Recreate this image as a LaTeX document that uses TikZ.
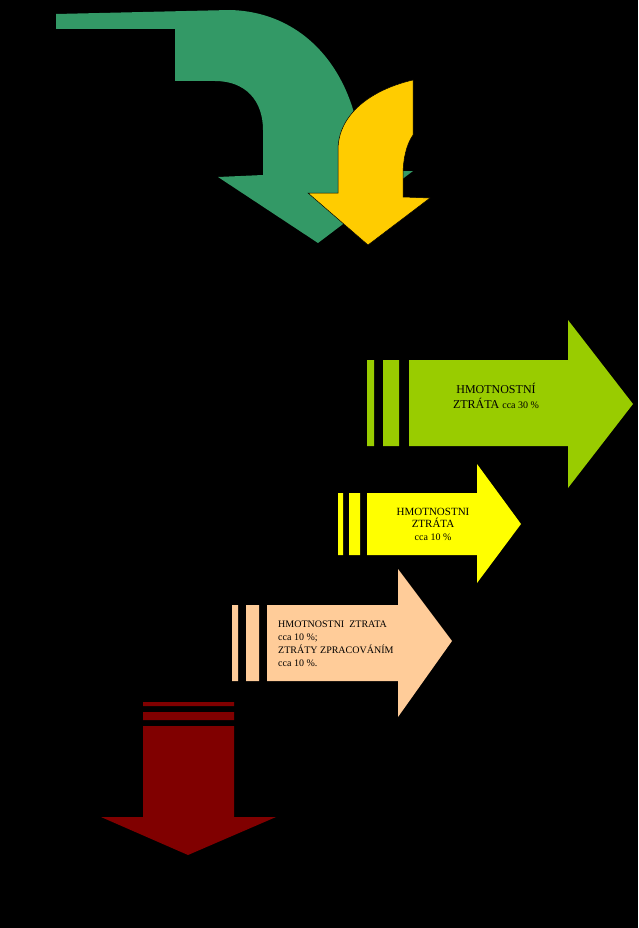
\documentclass[tikz,border=0pt]{standalone}
\usepackage{fontspec}
\setmainfont{Liberation Serif}
\definecolor{seagreen}{RGB}{51,153,102}
\definecolor{gold}{RGB}{255,204,0}
\definecolor{lime}{RGB}{153,204,0}
\definecolor{lemon}{RGB}{255,255,0}
\definecolor{peach}{RGB}{255,204,153}
\definecolor{maroon}{RGB}{128,0,0}
\begin{document}
\begin{tikzpicture}[x=1pt,y=-1pt]

    \tikzset{
      label/.style={
        inner sep=0pt,
        align=center,
        text=black,
      },
    }
    \fill[black] (0,0) rectangle (638,928);
    \useasboundingbox (0,0) rectangle (638,928);

	% curved arrows
	\fill[seagreen] (56,14)--(230,10) .. controls (310,12) and (362,80) .. (362,172)--(413,171)--(318,243)--(218,177)--(263,175)--(263,130) .. controls (263,100) and (245,81) .. (215,81)--(175,81)--(175,29)--(56,29)--cycle;
	\filldraw[fill=gold,draw=black,line width=0.5] (413,80)--(413,135) .. controls (406,145) and (403,160) .. (403,175)--(403,197)--(430,198)--(368,245)--(308,193)--(338,193)--(338,150) .. controls (338,115) and (370,90) .. (413,80)--cycle;

	% right arrows
	\fill[lime] (367,360) rectangle (374,446) (383,360) rectangle (399,446);
	\fill[lime] (409,360)--(568,360)--(568,320)--(633,404)--(568,488)--(568,446)--(409,446)--cycle;
	\node[label,font=\fontsize{12}{15}\selectfont] (loss1) at (496,396) {HMOTNOSTNÍ\\ZTRÁTA {\fontsize{10}{12}\selectfont cca 30 \%}};

	\fill[lemon] (338,493) rectangle (343,555) (349,493) rectangle (360,555);
	\fill[lemon] (367,493)--(477,493)--(477,464)--(521,524)--(477,583)--(477,555)--(367,555)--cycle;
	\node[label,font=\fontsize{11}{12.5}\selectfont] (loss2) at (433,524) {HMOTNOSTNI\\ZTRÁTA\\{\fontsize{10}{12}\selectfont cca 10 \%}};

	\fill[peach] (232,605) rectangle (238,681) (246,605) rectangle (259,681);
	\fill[peach] (267,605)--(398,605)--(398,569)--(452,641)--(398,717)--(398,681)--(267,681)--cycle;
	\node[label,align=left,anchor=west,font=\fontsize{10}{13}\selectfont] (loss3) at (278,644) {HMOTNOSTNI\ \ ZTRATA\\cca 10 \%;\\ZTRÁTY ZPRACOVÁNÍM\\cca 10 \%.};

	% down arrow
	\fill[maroon] (143,702) rectangle (234,706) (143,712) rectangle (234,720);
	\fill[maroon] (143,726)--(234,726)--(234,817)--(276,817)--(188,855)--(101,817)--(143,817)--cycle;

\end{tikzpicture}
\end{document}
